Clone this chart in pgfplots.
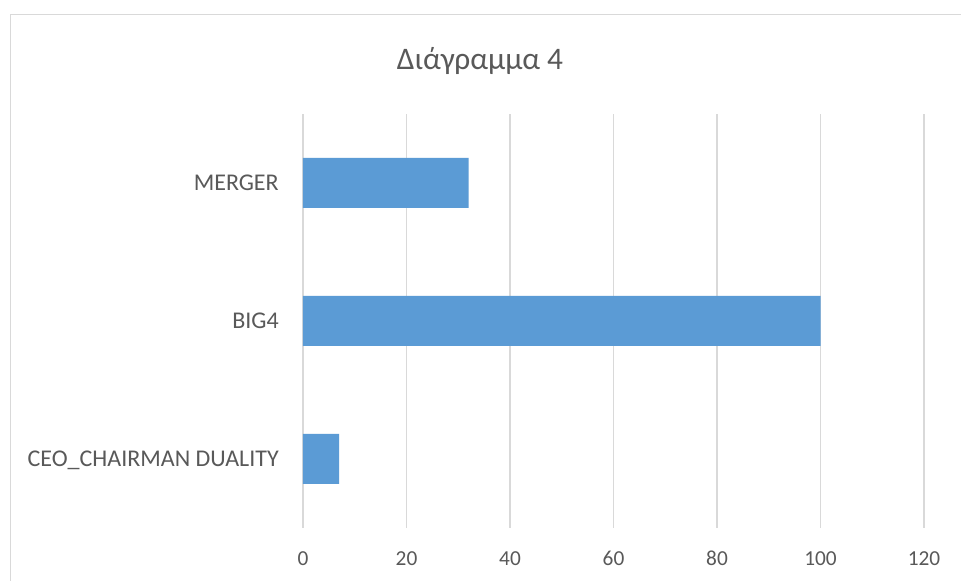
\documentclass[border=0pt]{standalone}
\usepackage{fontspec}
\setmainfont{Carlito}
\usepackage{pgfplots}
\pgfplotsset{compat=1.18}
\definecolor{barblue}{HTML}{5B9BD5}
\definecolor{gridgray}{HTML}{D9D9D9}
\definecolor{txtgray}{HTML}{595959}
\begin{document}
\begin{tikzpicture}
\useasboundingbox (0,0) rectangle (720.75pt,435.75pt);
\fill[white] (0,0) rectangle (720.75pt,435.75pt);
% chart frame (left and top edges visible)
\draw[gridgray, line width=1.2pt] (7.9pt,-1pt) -- (7.9pt,424.9pt) -- (722pt,424.9pt);
% title
\node[txtgray, font=\fontsize{23.5}{27}\selectfont] at (360pt,390pt) {Διάγραμμα 4};
\begin{axis}[
  at={(227.25pt,39.75pt)}, anchor=south west,
  scale only axis,
  width=465.75pt, height=310.5pt,
  xbar, bar width=37.5pt,
  xmin=0, xmax=120,
  ymin=-0.5, ymax=2.5,
  xtick={0,20,...,120},
  ytick={0,1,2},
  yticklabels={CEO\_CHAIRMAN DUALITY, BIG4, MERGER},
  axis line style={draw=none},
  major tick length=0pt,
  xmajorgrids,
  major grid style={gridgray, line width=1.1pt},
  /pgf/number format/assume math mode=true,
  xticklabel style={txtgray, font=\fontsize{16}{19}\selectfont, inner sep=0pt, anchor=center, yshift=-23pt},
  yticklabel style={txtgray, font=\fontsize{18}{21}\selectfont, inner sep=0pt, anchor=base east, xshift=-18pt, yshift=-5.8pt},
]
\addplot[fill=barblue, draw=none] coordinates {(7,0) (100,1) (32,2)};
\end{axis}
\end{tikzpicture}
\end{document}
